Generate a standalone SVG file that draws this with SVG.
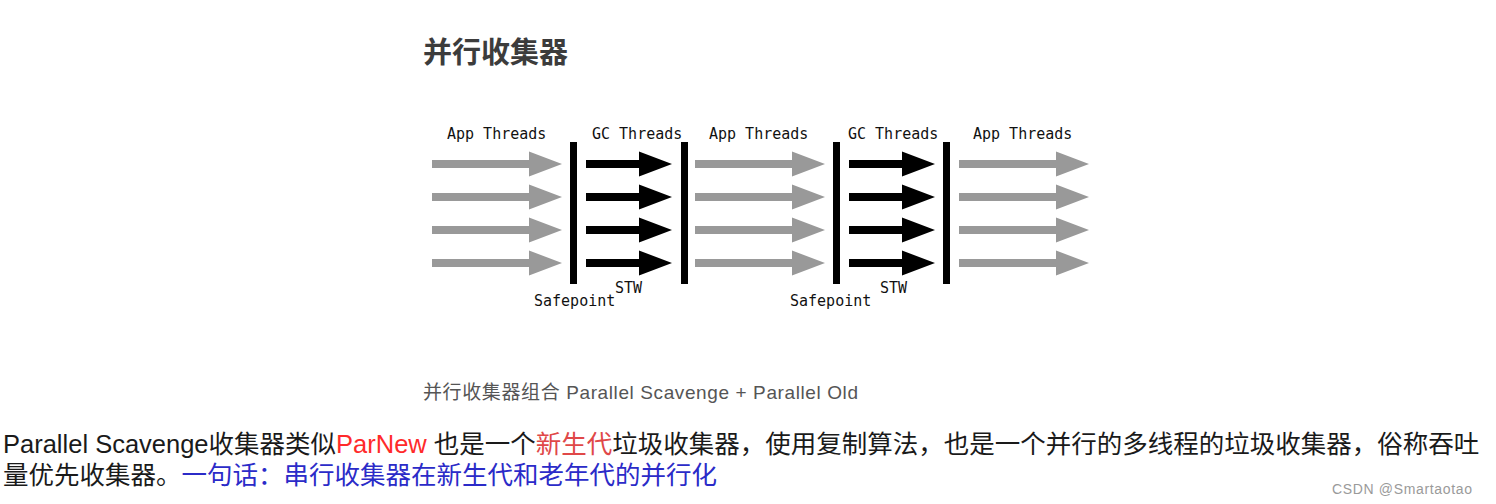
<svg xmlns="http://www.w3.org/2000/svg" width="1496" height="504" viewBox="0 0 1496 504">
  <style>
    .mono { font-family: "DejaVu Sans Mono", "Liberation Mono", monospace; font-size: 15px; fill: #111; }
    .title { font-family: "Noto Sans CJK SC", sans-serif; font-size: 29px; font-weight: bold; fill: #3c3c3c; }
    .caption { font-family: "Liberation Sans", "Noto Sans CJK SC", sans-serif; font-size: 19px; fill: #555; }
    .body { font-family: "Liberation Sans", "Noto Sans CJK SC", sans-serif; font-size: 25.5px; fill: #1a1a1a; }
    .red { fill: #ff2a2a; }
    .pink { fill: #e04848; }
    .blue { fill: #2b2bc8; }
    .mark { font-family: "Liberation Sans", sans-serif; font-size: 14px; fill: #9a9a9a; }
    .gray { fill: #999999; }
    .black { fill: #000000; }
    .bar { fill: #000000; }
  </style>
  <defs>
    <path id="ga" d="M0,-4 H97 V-12.5 L130,0 L97,12.5 V4 H0 Z"/>
    <path id="ba" d="M0,-4 H53 V-12.5 L86,0 L53,12.5 V4 H0 Z"/>
  </defs>
  <rect width="1496" height="504" fill="#ffffff"/>

  <g id="title">
    <text class="title" x="423" y="63">并行收集器</text>
  </g>

  <g id="labels">
    <text class="mono" x="447" y="139">App Threads</text>
    <text class="mono" x="592" y="139">GC Threads</text>
    <text class="mono" x="709" y="139">App Threads</text>
    <text class="mono" x="848" y="139">GC Threads</text>
    <text class="mono" x="973" y="139">App Threads</text>
    <text class="mono" x="615" y="293">STW</text>
    <text class="mono" x="880" y="293">STW</text>
    <text class="mono" x="534" y="306">Safepoint</text>
    <text class="mono" x="790" y="306">Safepoint</text>
  </g>

  <g id="safepoints">
    <rect class="bar" x="570" y="142" width="7" height="142"/>
    <rect class="bar" x="681" y="142" width="7" height="142"/>
    <rect class="bar" x="833" y="142" width="7" height="142"/>
    <rect class="bar" x="943" y="142" width="7" height="142"/>
  </g>

  <g id="connectors">
    <g class="gray">
      <use href="#ga" x="432" y="164"/>
      <use href="#ga" x="432" y="197"/>
      <use href="#ga" x="432" y="230"/>
      <use href="#ga" x="432" y="263"/>
      <use href="#ga" x="695" y="164"/>
      <use href="#ga" x="695" y="197"/>
      <use href="#ga" x="695" y="230"/>
      <use href="#ga" x="695" y="263"/>
      <use href="#ga" x="959" y="164"/>
      <use href="#ga" x="959" y="197"/>
      <use href="#ga" x="959" y="230"/>
      <use href="#ga" x="959" y="263"/>
    </g>
    <g class="black">
      <use href="#ba" x="586" y="164"/>
      <use href="#ba" x="586" y="197"/>
      <use href="#ba" x="586" y="230"/>
      <use href="#ba" x="586" y="263"/>
      <use href="#ba" x="849" y="164"/>
      <use href="#ba" x="849" y="197"/>
      <use href="#ba" x="849" y="230"/>
      <use href="#ba" x="849" y="263"/>
    </g>
  </g>

  <g id="caption">
    <text class="caption" x="423" y="399" textLength="435" lengthAdjust="spacing">并行收集器组合 Parallel Scavenge + Parallel Old</text>
  </g>

  <g id="description">
    <text class="body" x="3" y="453">Parallel Scavenge收集器类似<tspan class="red">ParNew</tspan> 也是一个<tspan class="pink">新生代</tspan>垃圾收集器，使用复制算法，也是一个并行的多线程的垃圾收集器，俗称吞吐</text>
    <text class="body" x="3" y="484">量优先收集器。<tspan class="blue">一句话：串行收集器在新生代和老年代的并行化</tspan></text>
  </g>

  <g id="watermark">
    <text class="mark" x="1332" y="494" textLength="140" lengthAdjust="spacing">CSDN @Smartaotao</text>
  </g>
</svg>
